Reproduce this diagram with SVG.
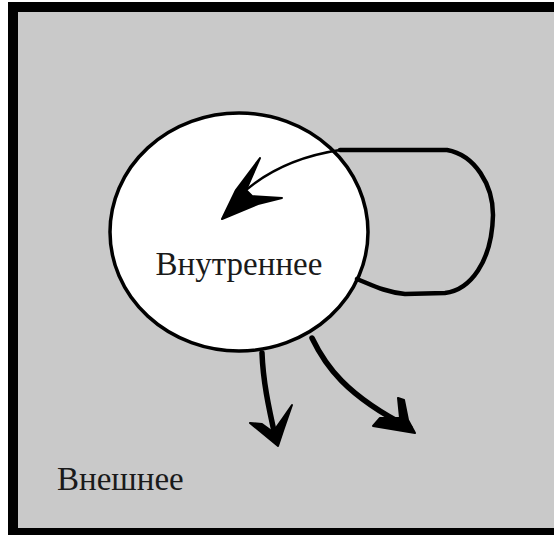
<svg xmlns="http://www.w3.org/2000/svg" width="554" height="535" viewBox="0 0 554 535">
<style>
.lbl{font-family:"Liberation Serif","Times New Roman",serif;font-size:33px;fill:#1a1a1a}
.stroke{fill:none;stroke:#000;stroke-linecap:round;stroke-linejoin:round}
.head{fill:#000;stroke:#000;stroke-width:2;stroke-linejoin:round}
</style>
<rect x="0" y="0" width="554" height="535" fill="#fff"/>
<g id="outer">
<rect x="13" y="7" width="560" height="526" fill="#c9c9c9" stroke="#000" stroke-width="10"/>
<text class="lbl" x="57" y="490">Внешнее</text>
</g>
<g id="inner">
<ellipse cx="239" cy="232" rx="129" ry="119" fill="#fff" stroke="#000" stroke-width="3.5"/>
<text class="lbl" x="239" y="275" text-anchor="middle">Внутреннее</text>
</g>
<g id="connectors">
<path class="stroke" stroke-width="4.5" d="M357 279 C372 285 385 292 405 294 L445 293 C470 290 492 262 493 215 C493 185 475 155 447 150 L340 150"/>
<path class="stroke" stroke-width="2.5" d="M340 150 C300 156 265 170 235 200"/>
<path class="head" d="M222 219 L236 190 L260 158 L246 190 L252 196 L282 198 L258 204 Z"/>
<path class="stroke" stroke-width="5.5" d="M262 353 C263 380 268 405 276 440"/>
<path class="head" d="M278 446 L250 423 L262 424 L273 432 L283 418 L292 405 L284 428 Z"/>
<path class="stroke" stroke-width="5.5" d="M312 338 C325 365 345 395 410 428"/>
<path class="head" d="M415 433 L373 426 L380 418 L400 418 L398 398 L404 400 L408 420 Z"/>
</g>
</svg>
